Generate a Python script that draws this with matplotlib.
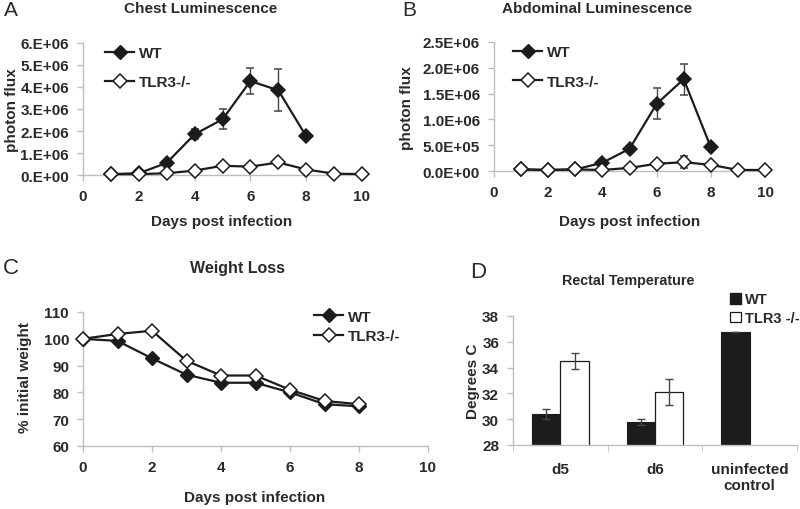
"""Four-panel figure: luminescence, weight loss and rectal temperature, WT vs TLR3-/-."""

import matplotlib

matplotlib.use("Agg")
import matplotlib.pyplot as plt
import numpy as np
from matplotlib.lines import Line2D
from matplotlib.patches import Patch

plt.rcParams["font.family"] = ["Liberation Sans", "DejaVu Sans"]
plt.rcParams["font.weight"] = "bold"

W, H = 800, 510
INK = "#1c1c1c"
TEXT = "#2a2a2a"
SPINE = "#bdbdbd"

# --- data -----------------------------------------------------------------
chest_days_wt = [1, 2, 3, 4, 5, 6, 7, 8]
chest_wt = [0.04e6, 0.08e6, 0.55e6, 1.85e6, 2.53e6, 4.27e6, 3.85e6, 1.76e6]
chest_wt_err = [0.0, 0.03e6, 0.08e6, 0.22e6, 0.45e6, 0.6e6, 0.95e6, 0.08e6]
chest_days_ko = [1, 2, 3, 4, 5, 6, 7, 8, 9, 10]
chest_ko = [0.04e6, 0.04e6, 0.08e6, 0.2e6, 0.42e6, 0.38e6, 0.57e6, 0.25e6, 0.06e6, 0.04e6]
chest_ko_err = [0, 0, 0, 0, 0.05e6, 0.05e6, 0.1e6, 0.05e6, 0, 0]

abd_days_wt = [1, 2, 3, 4, 5, 6, 7, 8]
abd_wt = [0.03e6, 0.02e6, 0.03e6, 0.16e6, 0.43e6, 1.3e6, 1.78e6, 0.46e6]
abd_wt_err = [0, 0, 0, 0.02e6, 0.04e6, 0.3e6, 0.3e6, 0.03e6]
abd_days_ko = [1, 2, 3, 4, 5, 6, 7, 8, 9, 10]
abd_ko = [0.03e6, 0.02e6, 0.03e6, 0.02e6, 0.06e6, 0.14e6, 0.17e6, 0.12e6, 0.02e6, 0.02e6]
abd_ko_err = [0, 0, 0, 0, 0, 0.03e6, 0.12e6, 0.02e6, 0, 0]

weight_days = [0, 1, 2, 3, 4, 5, 6, 7, 8]
weight_wt = [100, 99.2, 92.7, 86.6, 83.6, 83.6, 80.0, 75.6, 74.8]
weight_ko = [100, 101.8, 103.0, 91.8, 86.3, 86.3, 81.0, 76.8, 75.6]

temp_groups = ["d5", "d6", "uninfected\ncontrol"]
temp_wt = [30.4, 29.8, 36.75]
temp_wt_err = [0.4, 0.22, 0.0]
temp_ko = [34.5, 32.1, np.nan]
temp_ko_err = [0.6, 1.0, 0.0]

day_ticks = [0, 2, 4, 6, 8, 10]

LABEL_SIZE = 11
TICK_SIZE = 11


def fig_ax(left, top, right, bottom):
    """Add axes from pixel box (left, top, right, bottom)."""
    return fig.add_axes([left / W, 1 - bottom / H, (right - left) / W, (bottom - top) / H])


def ftext(x, y, s, **kw):
    kw.setdefault("ha", "center")
    kw.setdefault("va", "center")
    kw.setdefault("color", TEXT)
    fig.text(x / W, 1 - y / H, s, **kw)


def style_axes(ax):
    for side in ("top", "right"):
        ax.spines[side].set_visible(False)
    for side in ("left", "bottom"):
        ax.spines[side].set_color(SPINE)
        ax.spines[side].set_linewidth(1.0)
    ax.tick_params(axis="both", direction="out", length=4, width=1, color=SPINE,
                   labelsize=TICK_SIZE, labelcolor=TEXT, pad=6)
    for lab in ax.get_xticklabels() + ax.get_yticklabels():
        lab.set_fontweight("bold")


def line_series(ax, x, y, err, filled, z):
    ax.errorbar(x, y, yerr=err, color=INK, lw=1.6, marker="D", ms=7,
                mfc=INK if filled else "white", mec=INK, mew=1.1,
                ecolor="#444444", elinewidth=1.0, capsize=3, capthick=1.0,
                zorder=z, clip_on=False)


def line_legend(ax, anchor, spacing):
    handles = [
        Line2D([], [], color=INK, lw=1.6, marker="D", ms=7, mfc=INK, mec=INK),
        Line2D([], [], color=INK, lw=1.6, marker="D", ms=7, mfc="white",
               mec=INK, mew=1.1),
    ]
    ax.legend(handles, ["WT", "TLR3-/-"], loc="upper left", bbox_to_anchor=anchor,
              frameon=False, prop={"weight": "bold", "size": LABEL_SIZE},
              handlelength=1.9, handletextpad=0.3, labelspacing=spacing,
              labelcolor=TEXT)


fig = plt.figure(figsize=(W / 100, H / 100), dpi=100)

# --- A: chest luminescence -------------------------------------------------
ax = fig_ax(83, 44, 362, 176)
line_series(ax, chest_days_wt, chest_wt, chest_wt_err, True, 3)
line_series(ax, chest_days_ko, chest_ko, chest_ko_err, False, 4)
ax.set_xlim(0, 10)
ax.set_ylim(0, 6e6)
ax.set_xticks(day_ticks)
ax.set_yticks(np.arange(0, 6.5e6, 1e6))
ax.set_yticklabels([f"{v:.0f}.E+0{0 if v == 0 else 6}" for v in range(7)])
style_axes(ax)
line_legend(ax, (0.03, 1.08), 1.0)
ftext(12, 110, "photon flux", rotation=90, fontsize=LABEL_SIZE, fontweight="bold")
ftext(222, 222, "Days post infection", fontsize=LABEL_SIZE, fontweight="bold")
ftext(201, 9, "Chest Luminescence", fontsize=11, fontweight="bold")
ftext(11, 11, "A", fontsize=15, fontweight="normal")

# --- B: abdominal luminescence ---------------------------------------------
ax = fig_ax(494, 43, 765, 172)
line_series(ax, abd_days_wt, abd_wt, abd_wt_err, True, 3)
line_series(ax, abd_days_ko, abd_ko, abd_ko_err, False, 4)
ax.set_xlim(0, 10)
ax.set_ylim(0, 2.5e6)
ax.set_xticks(day_ticks)
ax.set_yticks(np.arange(0, 2.6e6, 0.5e6))
ax.set_yticklabels(["0.0E+00", "5.0E+05", "1.0E+06", "1.5E+06", "2.0E+06", "2.5E+06"])
style_axes(ax)
line_legend(ax, (0.02, 1.08), 1.0)
ftext(407, 108, "photon flux", rotation=90, fontsize=LABEL_SIZE, fontweight="bold")
ftext(630, 222, "Days post infection", fontsize=LABEL_SIZE, fontweight="bold")
ftext(597, 9, "Abdominal Luminescence", fontsize=11, fontweight="bold")
ftext(409, 11, "B", fontsize=15, fontweight="normal")

# --- C: weight loss --------------------------------------------------------
ax = fig_ax(83, 313, 428, 447)
ax.plot(weight_days, weight_wt, color=INK, lw=1.6, marker="D", ms=7,
        mfc=INK, mec=INK, zorder=3, clip_on=False)
ax.plot(weight_days, weight_ko, color=INK, lw=1.6, marker="D", ms=7,
        mfc="white", mec=INK, mew=1.1, zorder=4, clip_on=False)
ax.set_xlim(0, 10)
ax.set_ylim(60, 110)
ax.set_xticks(day_ticks)
ax.set_yticks(range(60, 111, 10))
style_axes(ax)
line_legend(ax, (0.63, 1.12), 0.35)
ftext(25, 378, "% initial weight", rotation=90, fontsize=LABEL_SIZE, fontweight="bold")
ftext(255, 498, "Days post infection", fontsize=LABEL_SIZE, fontweight="bold")
ftext(237, 268, "Weight Loss", fontsize=11.5, fontweight="bold")
ftext(11, 268, "C", fontsize=16, fontweight="normal")

# --- D: rectal temperature -------------------------------------------------
ax = fig_ax(513, 317, 797, 446)
pos = np.arange(len(temp_groups))
bw = 0.3
ax.bar(pos - bw / 2, temp_wt, bw, yerr=temp_wt_err, color=INK, edgecolor=INK,
       lw=0.8, capsize=3, error_kw={"elinewidth": 1, "ecolor": "#444444"})
ax.bar(pos + bw / 2, temp_ko, bw, yerr=temp_ko_err, color="white", edgecolor=INK,
       lw=0.9, capsize=3, error_kw={"elinewidth": 1, "ecolor": "#444444"})
ax.set_xlim(-0.5, len(temp_groups) - 0.5)
ax.set_ylim(28, 38)
ax.set_yticks(range(28, 39, 2))
ax.set_xticks(pos)
ax.set_xticklabels(temp_groups)
ax.set_xticks(np.arange(-0.5, len(temp_groups)), minor=True)
style_axes(ax)
ax.tick_params(axis="x", which="major", length=0, pad=12)
ax.tick_params(axis="x", which="minor", direction="out", length=4, color=SPINE)
bar_handles = [Patch(facecolor=INK, edgecolor=INK),
               Patch(facecolor="white", edgecolor=INK, lw=0.9)]
ax.legend(bar_handles, ["WT", "TLR3 -/-"], loc="upper left",
          bbox_to_anchor=(0.735, 1.25), frameon=False,
          prop={"weight": "bold", "size": 10.5}, handlelength=0.7,
          handleheight=0.7, handletextpad=0.3, labelspacing=0.3, labelcolor=TEXT,
          borderaxespad=0.2)
ftext(473, 381, "Degrees C", rotation=90, fontsize=LABEL_SIZE, fontweight="bold")
ftext(628, 281, "Rectal Temperature", fontsize=10.3, fontweight="bold")
ftext(478, 272, "D", fontsize=16, fontweight="normal")

fig.savefig("out.png", dpi=100, facecolor="white")
